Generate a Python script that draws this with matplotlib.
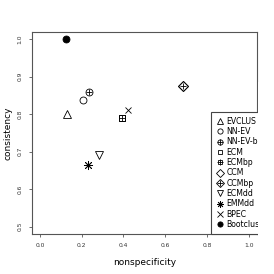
import matplotlib
matplotlib.use("Agg")
import matplotlib.pyplot as plt
from matplotlib.legend_handler import HandlerTuple

methods = ["EVCLUS", "NN-EV", "NN-EV-b", "ECM", "ECMbp", "CCM", "CCMbp",
           "ECMdd", "EMMdd", "BPEC", "Bootclus"]
nonspecificity = [0.132, 0.204, 0.234, 0.392, 0.392, 0.686, 0.686,
                  0.282, 0.231, 0.424, 0.123]
consistency = [0.800, 0.838, 0.860, 0.790, 0.790, 0.875, 0.875,
               0.692, 0.665, 0.811, 1.000]
# list of (marker, filled) layers for each method, like R pch symbols
symbols = [
    [("^", False)],
    [("o", False)],
    [("o", False), ("+", False)],
    [("s", False)],
    [("s", False), ("+", False)],
    [("D", False)],
    [("D", False), ("+", False)],
    [("v", False)],
    [((8, 2, 0), False)],
    [("x", False)],
    [("o", True)],
]

xticks = [0.0, 0.2, 0.4, 0.6, 0.8, 1.0]
yticks = [0.5, 0.6, 0.7, 0.8, 0.9, 1.0]

sizes = {"^": 6, "v": 6, "o": 5, "s": 4.8, "D": 5, "+": 5, "x": 5}

fig = plt.figure(figsize=(2.74, 2.74), dpi=100)
ax = fig.add_axes([0.1153, 0.146, 0.8226, 0.738])

handles = []
for x, y, layers in zip(nonspecificity, consistency, symbols):
    parts = []
    for m, filled in layers:
        size = sizes.get(m, 6.5)
        ln, = ax.plot([x], [y], linestyle="none", marker=m, markersize=size,
                      markerfacecolor="black" if filled else "none",
                      markeredgecolor="black", markeredgewidth=0.6)
        parts.append(ln)
    handles.append(tuple(parts))

ax.set_xlim(-0.04, 1.04)
ax.set_ylim(0.48, 1.02)
ax.set_xticks(xticks)
ax.set_yticks(yticks)
ax.set_xticklabels([f"{v:.1f}" for v in xticks])
ax.set_yticklabels([f"{v:.1f}" for v in yticks], rotation=90, va="center")
ax.tick_params(labelsize=4.3, length=2.5, width=0.5, pad=4, colors="#333333")
for s in ax.spines.values():
    s.set_linewidth(0.8)
    s.set_color("#555555")
ax.set_xlabel("nonspecificity", fontsize=6.5, labelpad=7)
ax.set_ylabel("consistency", fontsize=6.5, labelpad=4)

leg = ax.legend(handles, methods, loc="lower left", bbox_to_anchor=(0.796, 0.0),
                handler_map={tuple: HandlerTuple(ndivide=1, pad=0)},
                fontsize=5.6, frameon=True, fancybox=False, framealpha=1,
                edgecolor="#444444", handlelength=0.9, handletextpad=0.4,
                labelspacing=0.17, borderpad=0.65, borderaxespad=0,
                markerscale=0.75)
leg.get_frame().set_linewidth(0.8)

# the R legend runs past the plot region and is cut there: hide the overflow
fig.patches.append(plt.Rectangle((0.9412, 0.1), 0.07, 0.6, transform=fig.transFigure,
                                 facecolor="white", edgecolor="none", zorder=5))

fig.savefig("out.png", dpi=100)
